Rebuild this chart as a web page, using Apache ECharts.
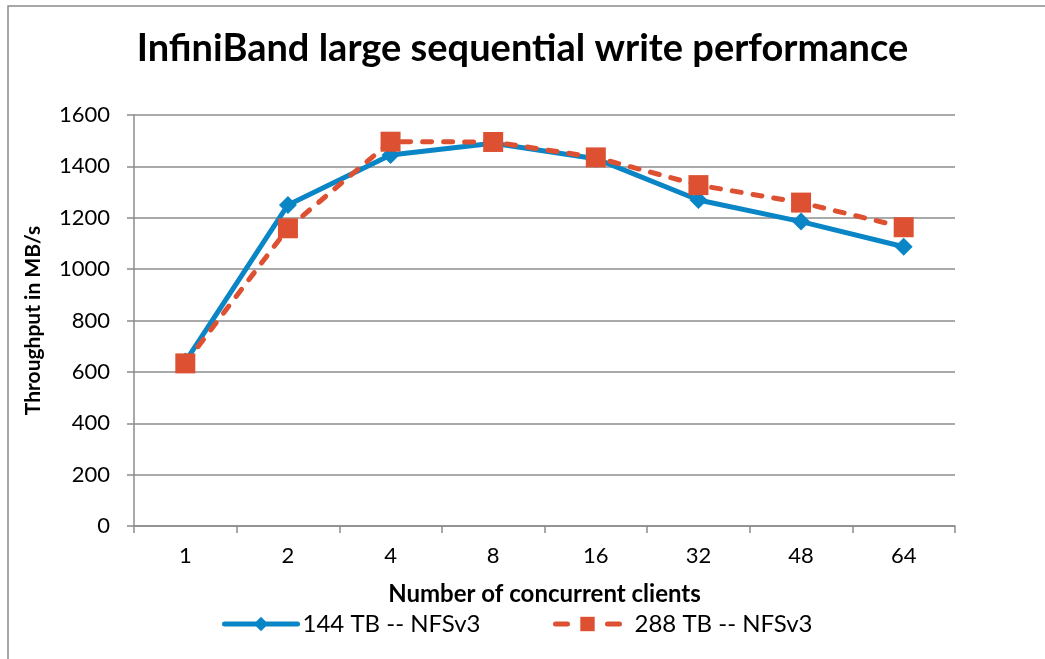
<!DOCTYPE html>
<html>
<head>
<meta charset="utf-8">
<script src="https://cdn.jsdelivr.net/npm/echarts@6/dist/echarts.min.js"></script>
<style>
  html, body { margin: 0; padding: 0; background: #fff; }
  #chart { width: 1045px; height: 659px; }
</style>
</head>
<body>
<div id="chart"></div>
<script>
const clients = ['1', '2', '4', '8', '16', '32', '48', '64']
const tb144 = [640, 1250, 1444, 1490, 1430, 1269, 1185, 1087]
const tb288 = [633, 1159, 1496, 1495, 1435, 1327, 1259, 1163]
const seriesNames = ['144 TB -- NFSv3', '288 TB -- NFSv3']

const axisGray = '#8c8c8c'
const blue = '#0a86c6'
const red = '#dd5031'
const font = 'Lato'

const chart = echarts.init(document.getElementById('chart'))
const option = {
  backgroundColor: '#fff',
  animation: false,
  textStyle: { fontFamily: font },
  graphic: [
    {
      type: 'rect',
      shape: { x: 8, y: 6, width: 1100, height: 700 },
      style: { fill: 'none', stroke: axisGray, lineWidth: 1.5 },
      silent: true
    }
  ],
  title: {
    text: 'InfiniBand large sequential write performance',
    left: 'center',
    top: 25,
    textStyle: { fontFamily: font, fontSize: 38, fontWeight: 'bold', color: '#000' }
  },
  grid: { left: 134, right: 90, top: 115, bottom: 133 },
  legend: [
    {
      data: [{ name: seriesNames[0] }],
      top: 607,
      left: 217,
      itemWidth: 73,
      itemHeight: 18,
      lineStyle: { width: 5, cap: 'round' },
      textStyle: { fontFamily: font, fontSize: 24, color: '#000' }
    },
    {
      data: [{ name: seriesNames[1] }],
      top: 607,
      left: 548,
      itemWidth: 64,
      itemHeight: 18,
      lineStyle: { width: 5, type: [12, 40], cap: 'round' },
      textStyle: { fontFamily: font, fontSize: 24, color: '#000', padding: [0, 0, 0, 10] }
    }
  ],
  xAxis: {
    type: 'category',
    data: clients,
    boundaryGap: true,
    name: 'Number of concurrent clients',
    nameLocation: 'middle',
    nameGap: 56,
    nameTextStyle: { fontFamily: font, fontSize: 24, fontWeight: 'bold', color: '#000' },
    axisLine: { lineStyle: { color: axisGray, width: 1.5 } },
    axisTick: { show: true, length: 7, lineStyle: { color: axisGray, width: 1.5 } },
    axisLabel: { fontFamily: font, fontSize: 22, color: '#000', margin: 19 }
  },
  yAxis: {
    type: 'value',
    min: 0,
    max: 1600,
    interval: 200,
    name: 'Throughput in MB/s',
    nameLocation: 'middle',
    nameGap: 90,
    nameTextStyle: { fontFamily: font, fontSize: 21, fontWeight: 'bold', color: '#000' },
    axisLine: { show: true, lineStyle: { color: axisGray, width: 1.5 } },
    axisTick: { show: true, length: 7, lineStyle: { color: axisGray, width: 1.5 } },
    axisLabel: { fontFamily: font, fontSize: 22, color: '#000', margin: 24, formatter: (v) => String(v) },
    splitLine: { lineStyle: { color: axisGray, width: 1.5 } }
  },
  series: [
    {
      name: seriesNames[0],
      type: 'line',
      data: tb144,
      symbol: 'diamond',
      symbolSize: 18,
      itemStyle: { color: blue },
      lineStyle: { color: blue, width: 5 },
      z: 2
    },
    {
      name: seriesNames[1],
      type: 'line',
      data: tb288,
      symbol: 'rect',
      symbolSize: 20,
      itemStyle: { color: red },
      lineStyle: { color: red, width: 5, type: [9, 12], cap: 'round' },
      z: 3
    }
  ]
}
chart.setOption(option)
</script>
</body>
</html>
